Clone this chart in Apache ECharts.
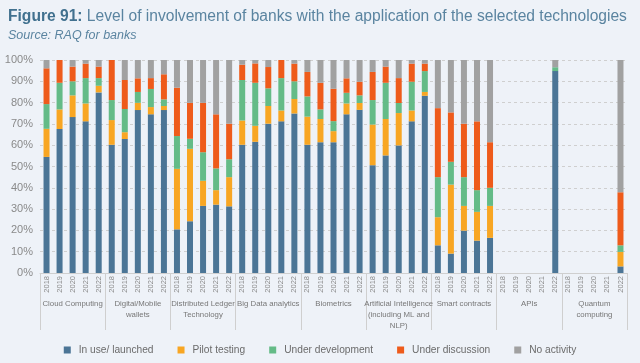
<!DOCTYPE html>
<html><head><meta charset="utf-8">
<script src="https://cdn.jsdelivr.net/npm/echarts@6/dist/echarts.min.js"></script>
<style>html,body{margin:0;padding:0;background:#eef2f8;}#c{width:640px;height:363px;}</style>
</head><body><div id="c"></div>
<script>
const groups = ["Cloud Computing","Digital/Mobile\nwallets","Distributed Ledger\nTechnology","Big Data analytics","Biometrics","Artificial Intelligence\n(including ML and\nNLP)","Smart contracts","APIs","Quantum\ncomputing"];
const years = ["2018","2019","2020","2021","2022"];
const seriesNames = ["In use/ launched","Pilot testing","Under development","Under discussion","No activity"];
const inUse = [54.5,67.6,73.2,71.2,84.8, 60.2,62.9,76.5,74.5,76.5, 20.5,24.3,31.5,32.1,31.3, 60.2,61.6,70.1,71.2,74.9, 60.2,61.4,61.4,74.5,76.6, 50.6,55.2,59.9,71.2,83.2, 13.0,9.1,19.9,15.2,16.5, null,null,null,null,94.8, null,null,null,null,3.1];
const pilot = [13.2,9.2,10.2,8.4,3.1, 11.6,3.2,3.4,3.4,1.9, 28.4,34.0,11.8,6.8,13.7, 11.4,7.5,8.3,5.1,6.8, 13.2,10.9,5.2,5.1,3.2, 19.1,17.1,15.2,5.1,1.8, 13.2,32.4,11.6,13.5,15.0, null,null,null,null,0, null,null,null,null,6.8];
const underDev = [11.6,12.5,6.6,11.9,3.6, 9.4,10.9,5.1,8.5,3.1, 15.4,4.7,13.4,10.2,8.4, 19.0,20.2,8.3,15.2,8.3, 9.5,4.5,4.7,5.0,3.6, 11.5,17.0,4.7,13.5,9.8, 18.8,10.7,13.5,10.2,8.5, null,null,null,null,1.8, null,null,null,null,3.1];
const underDisc = [16.8,10.7,6.9,6.8,5.4, 18.8,13.6,6.4,5.1,11.8, 22.7,16.9,23.2,25.4,16.7, 7.2,9.1,10.0,8.5,8.3, 11.5,12.5,15.2,6.8,6.4, 13.2,7.6,11.7,8.5,3.5, 32.4,23.2,25.1,32.3,21.4, null,null,null,null,0, null,null,null,null,24.9];
const noActivity = [3.9,0,3.1,1.7,3.1, 0,9.4,8.6,8.5,6.7, 13.0,20.1,20.1,25.5,29.9, 2.2,1.6,3.3,0,1.7, 5.6,10.7,13.5,8.6,10.2, 5.6,3.1,8.5,1.7,1.7, 22.6,24.6,29.9,28.8,38.6, null,null,null,null,3.4, null,null,null,null,62.1];
const yTicks = [0,10,20,30,40,50,60,70,80,90,100];

const font = "'Liberation Sans', Arial, sans-serif";
const colors = ["#4b7596","#f8a623","#64bb87","#ee5b1b","#a1a1a1"];
const cats = [];
groups.forEach(() => years.forEach(y => cats.push(y)));
const vals = [inUse, pilot, underDev, underDisc, noActivity];

const chart = echarts.init(document.getElementById('c'));
chart.setOption({
  backgroundColor: '#eef2f8',
  animation: false,
  color: colors,
  textStyle: {fontFamily: font},
  title: [{
    text: '{b|Figure 91:} Level of involvement of banks with the application of the selected technologies',
    left: 3, top: 4,
    textStyle: {color: '#5a84a0', fontSize: 15.6, fontWeight: 'normal', fontFamily: font,
      rich: {b: {color: '#41718f', fontSize: 15.6, fontWeight: 'bold', fontFamily: font}}}
  }, {
    text: 'Source: RAQ for banks', left: 3, top: 24,
    textStyle: {color: '#5a84a0', fontSize: 12.5, fontStyle: 'italic', fontWeight: 'normal', fontFamily: font}
  }],
  legend: {
    top: 340, left: 'center', icon: 'rect', itemWidth: 7, itemHeight: 7, itemGap: 24,
    textStyle: {color: '#6b6b6b', fontSize: 10.2, fontFamily: font, padding: [0, 0, 0, 3]},
    data: seriesNames
  },
  grid: {left: 40, right: 13, top: 60, bottom: 90},
  xAxis: [{
    type: 'category', data: cats,
    axisLine: {show: true, lineStyle: {color: '#cfcfcf'}},
    axisTick: {show: false},
    axisLabel: {rotate: 90, interval: 0, fontSize: 7.5, color: '#8a8a8a', fontFamily: font, margin: 3}
  }, {
    type: 'category', data: groups, position: 'bottom',
    axisLine: {show: false},
    axisTick: {show: true, length: 57, lineStyle: {color: '#cfcfcf'}},
    axisLabel: {interval: 0, fontSize: 7.8, color: '#777', fontFamily: font, margin: 25, lineHeight: 11}
  }],
  yAxis: {
    type: 'value', min: 0, max: 100, interval: 10,
    axisLine: {show: false}, axisTick: {show: false},
    axisLabel: {formatter: v => yTicks.includes(v) ? v + '%' : '', color: '#8a8a8a', fontSize: 11, fontFamily: font, margin: 7},
    splitLine: {lineStyle: {color: '#cfcfcf', type: [3, 3]}}
  },
  series: seriesNames.map((n, i) => ({
    name: n, type: 'bar', stack: 'a', barWidth: 6, xAxisIndex: 0,
    data: vals[i], itemStyle: {color: colors[i]}
  }))
});
</script></body></html>
